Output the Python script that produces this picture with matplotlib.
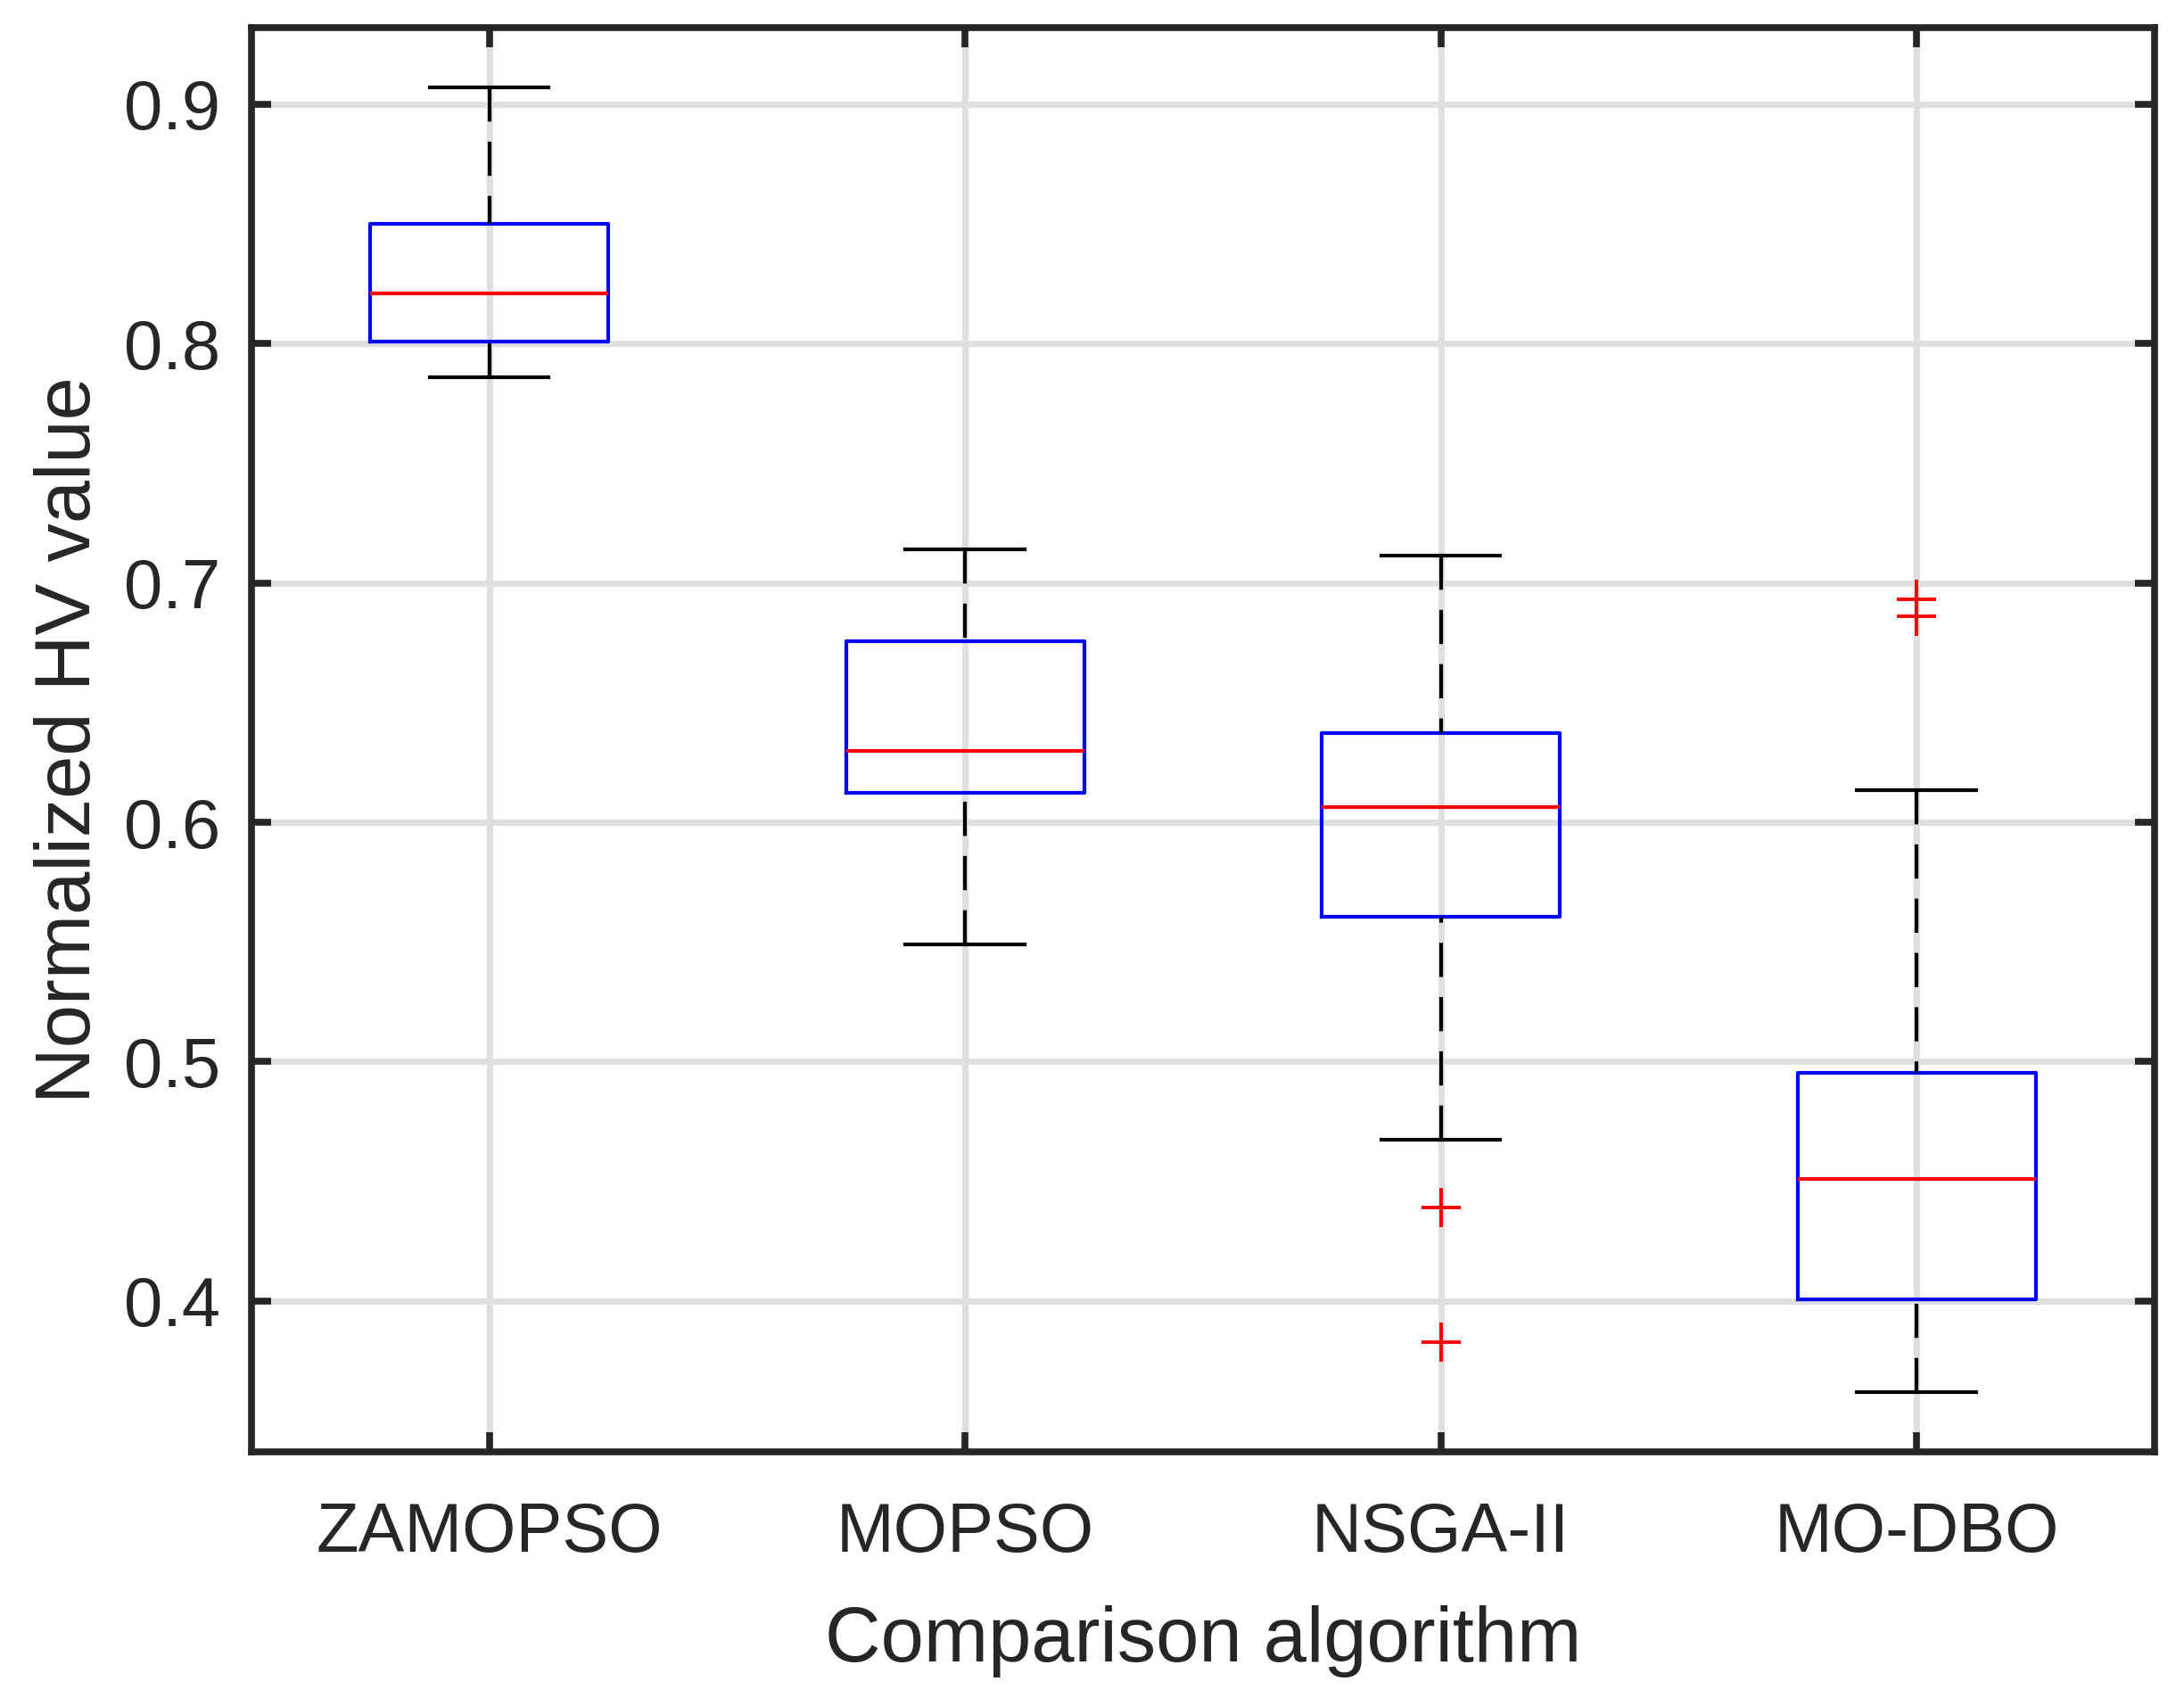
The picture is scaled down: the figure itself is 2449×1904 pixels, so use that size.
import matplotlib
matplotlib.use("Agg")
import matplotlib.pyplot as plt

# box statistics
algorithms = ["ZAMOPSO", "MOPSO", "NSGA-II", "MO-DBO"]
whisker_low = [0.786, 0.549, 0.4673, 0.3621]
quartile_1 = [0.801, 0.6125, 0.5604, 0.4008]
medians = [0.821, 0.630, 0.6064, 0.4510]
quartile_3 = [0.850, 0.6757, 0.6372, 0.4954]
whisker_high = [0.907, 0.714, 0.7113, 0.6135]
outliers = [[], [], [0.4392, 0.3829], [0.6932, 0.6861]]
y_ticks = [0.4, 0.5, 0.6, 0.7, 0.8, 0.9]

TEXT = "#262626"
plt.rcParams["font.family"] = ["Liberation Sans", "DejaVu Sans"]

fig = plt.figure(figsize=(24.49, 19.04), dpi=100)
ax = fig.add_axes([0.1151, 0.145, 0.8714, 0.8387])

stats = []
for i, name in enumerate(algorithms):
    stats.append(dict(label=name, whislo=whisker_low[i], q1=quartile_1[i],
                      med=medians[i], q3=quartile_3[i],
                      whishi=whisker_high[i], fliers=outliers[i]))

lw = 3.0
parts = ax.bxp(stats, positions=[1, 2, 3, 4], widths=0.5, capwidths=0.25,
               boxprops=dict(color="#0000ff", linewidth=lw),
               medianprops=dict(color="#ff0000", linewidth=lw),
               whiskerprops=dict(color="black", linewidth=lw,
                                 linestyle=(0, (9.2, 5.4))),
               capprops=dict(color="black", linewidth=lw),
               flierprops=dict(marker="+", markersize=31,
                               markeredgecolor="#ff0000",
                               markeredgewidth=2.8, linestyle="none"),
               zorder=3)

# MATLAB draws the dashed whisker starting from the cap
for w in parts["whiskers"]:
    w.set_ydata(w.get_ydata()[::-1])

ax.set_xlim(0.5, 4.5)
ax.set_ylim(0.337, 0.932)
ax.set_yticks(y_ticks)
ax.set_yticklabels([f"{v:.1f}" for v in y_ticks])
ax.set_xticks([1, 2, 3, 4])
ax.set_xticklabels(algorithms)

ax.grid(True, color="#dfdfdf", linewidth=5, zorder=0)
ax.set_axisbelow(True)

for side in ax.spines.values():
    side.set_linewidth(5.5)
    side.set_color(TEXT)

ax.tick_params(axis="both", direction="in", length=16, width=5.5,
               color=TEXT, labelcolor=TEXT, labelsize=56,
               top=True, right=True)
ax.tick_params(axis="x", pad=40)
ax.tick_params(axis="y", pad=25)

ax.set_xlabel("Comparison algorithm", fontsize=62.5, color=TEXT, labelpad=31)
ax.set_ylabel("Normalized HV value", fontsize=62.5, color=TEXT, labelpad=14)

fig.savefig("out.png", dpi=100, facecolor="white")
